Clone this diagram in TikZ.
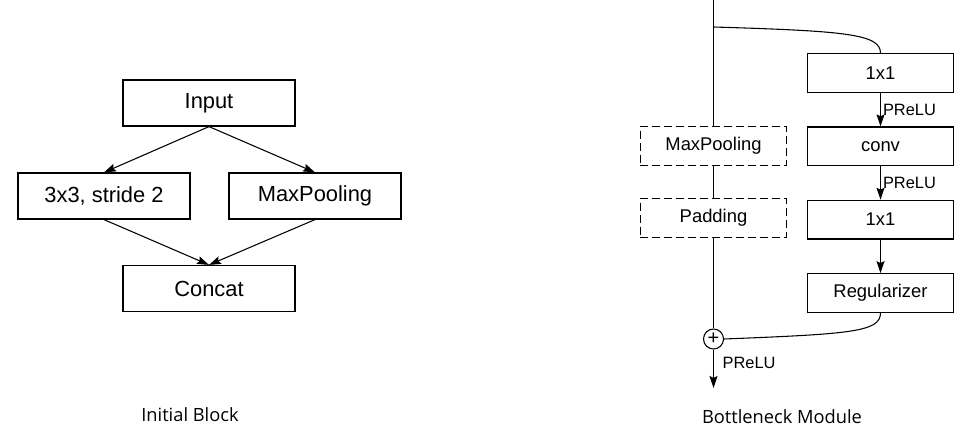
\documentclass[tikz,border=0pt]{standalone}
\usepackage{fontspec}
\setmainfont{Liberation Sans}
\newfontfamily\capfont{Open Sans}
\usetikzlibrary{arrows.meta, positioning}

\begin{document}
\begin{tikzpicture}[x=0.75pt, y=-0.75pt, node distance=55pt]
    \tikzstyle{block} = [rectangle, minimum width=129pt, minimum height=34.5pt, text centered, draw=black, line width=0.9pt, font=\fontsize{16.4}{18}\selectfont]
    \tikzstyle{layer} = [rectangle, minimum width=110pt, minimum height=29pt, text centered, draw=black, line width=0.9pt, font=\fontsize{13.8}{16}\selectfont]
    \tikzstyle{skip} = [layer, dash pattern=on 6pt off 3pt, line width=0.8pt]
    \tikzstyle{arrow} = [line width=0.8pt, -{Stealth[length=9pt, width=6pt, inset=1.5pt]}]
    \tikzstyle{line} = [line width=0.8pt]
    \tikzstyle{act} = [right, inner sep=1.5pt, font=\fontsize{12.3}{14}\selectfont]
    \tikzstyle{caption} = [font=\capfont\fontsize{13.7}{16}\selectfont]

    \useasboundingbox (0,0) rectangle (980,434);

    % initial block
    \node (input) [block] at (209,103) {Input};
    \node (stride) [block] at (104,196) {3x3, stride 2};
    \node (maxpool) [block] at (315,196) {MaxPooling};
    \node (concat) [block] at (209,288.5) {Concat};

    \draw [arrow] (input.south) -- (stride.north);
    \draw [arrow] (input.south) -- (maxpool.north);
    \draw [arrow] (stride.south) -- (concat.north);
    \draw [arrow] (maxpool.south) -- (concat.north);

    \node (initcap) [caption] at (190,415) {Initial Block};

    % bottleneck module
    \coordinate (top) at (713.5,0);
    \coordinate (split) at (713.5,27);
    \node (reduce) [layer] at (880.5,73) {1x1};
    \node (conv) [layer, below of=reduce] {conv};
    \node (expand) [layer, below of=conv] {1x1};
    \node (reg) [layer, below of=expand] {Regularizer};

    \node (skippool) [skip] at (713.5,146) {MaxPooling};
    \node (pad) [skip, below of=skippool, node distance=54pt] {Padding};
    \node (add) [circle, draw=black, line width=0.8pt, minimum size=15pt, inner sep=0pt, font=\fontsize{15}{15}\selectfont] at (713.5,339) {+};
    \coordinate (out) at (713.5,388);

    \draw [line] (top) -- (skippool);
    \draw [line] (skippool) -- (pad);
    \draw [line] (pad) -- (add);
    \draw [arrow] (add) -- node [act, pos=0.35, xshift=5pt] {PReLU} (out);

    \draw [line] (split) .. controls (845,31) and (880.5,34) .. (reduce.north);
    \draw [arrow] (reduce) -- node [act] {PReLU} (conv);
    \draw [arrow] (conv) -- node [act] {PReLU} (expand);
    \draw [arrow] (expand) -- (reg);
    \draw [line] (reg.south) .. controls (880.5,332) and (850,334) .. (add.east);

    \node (botcap) [caption] at (782,417) {Bottleneck Module};
\end{tikzpicture}
\end{document}
